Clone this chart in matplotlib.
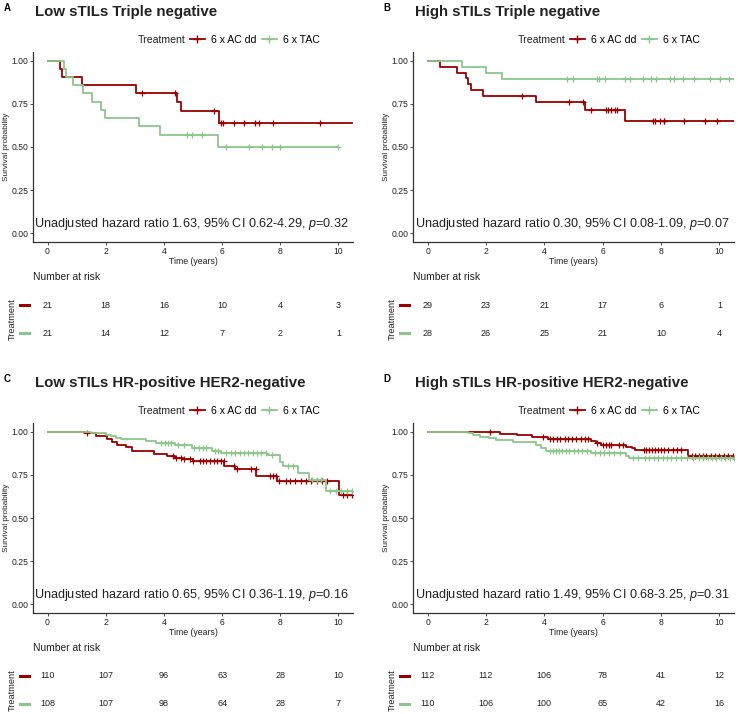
import numpy as np
import matplotlib
matplotlib.use("Agg")
import matplotlib.pyplot as plt
from matplotlib.lines import Line2D

plt.rcParams["font.family"] = ["Liberation Sans", "DejaVu Sans"]
plt.rcParams["mathtext.fontset"] = "custom"
plt.rcParams["mathtext.it"] = "Liberation Sans:italic"
plt.rcParams["mathtext.rm"] = "Liberation Sans"

# ---------------------------------------------------------------------------
# Data
# ---------------------------------------------------------------------------
risk_times = [0, 2, 4, 6, 8, 10]
groups = ["6 x AC dd", "6 x TAC"]

# Panel A: Low sTILs Triple negative
A_red_t = [0.44, 0.48, 1.18, 3.04, 4.44, 4.58, 5.90]
A_red_s = [0.952, 0.905, 0.857, 0.810, 0.762, 0.711, 0.640]
A_red_c = [3.24, 4.39, 5.73, 5.96, 6.02, 6.41, 6.74, 7.14, 7.27, 7.76, 9.36]
A_red_end = 10.48
A_green_t = [0.57, 0.63, 0.88, 1.23, 1.52, 1.83, 1.98, 3.13, 3.86, 5.86]
A_green_s = [0.952, 0.905, 0.857, 0.810, 0.762, 0.714, 0.667, 0.619, 0.571, 0.500]
A_green_c = [4.79, 4.98, 5.30, 6.13, 6.91, 7.37, 7.73, 7.98, 10.0]
A_green_end = 10.0
A_risk_red = [21, 18, 16, 10, 4, 3]
A_risk_green = [21, 14, 12, 7, 2, 1]

# Panel B: High sTILs Triple negative
B_red_t = [0.43, 1.0, 1.30, 1.38, 1.49, 1.89, 3.70, 5.38, 6.76]
B_red_s = [0.966, 0.931, 0.897, 0.862, 0.828, 0.793, 0.758, 0.715, 0.650]
B_red_c = [3.25, 4.85, 5.34, 5.59, 6.12, 6.17, 6.28, 6.41, 6.49,
           7.72, 7.80, 7.95, 8.09, 8.11, 8.78, 9.50, 9.92]
B_red_end = 10.5
B_green_t = [1.17, 1.99, 2.55]
B_green_s = [0.964, 0.929, 0.893]
B_green_c = [4.77, 4.98, 5.80, 5.89, 6.09, 6.77, 6.94, 7.38, 7.65, 7.84,
             8.30, 8.43, 8.75, 9.14, 9.67, 10.01, 10.32]
B_green_end = 10.5
B_risk_red = [29, 23, 21, 17, 6, 1]
B_risk_green = [28, 26, 25, 21, 10, 4]

# Panel C: Low sTILs HR-positive HER2-negative
C_red_t = [1.26, 1.66, 2.03, 2.23, 2.40, 2.69, 2.90, 3.67, 4.10, 4.39, 4.67,
           5.00, 6.06, 6.43, 7.16, 7.90, 10.02]
C_red_s = [0.991, 0.973, 0.955, 0.940, 0.925, 0.910, 0.885, 0.869, 0.860,
           0.850, 0.840, 0.831, 0.803, 0.786, 0.746, 0.717, 0.635]
C_red_c = [1.37, 4.30, 4.40, 4.60, 4.70, 4.90, 5.00, 5.25, 5.35, 5.45, 5.60,
           5.72, 5.82, 5.95, 6.05, 6.40, 6.50, 7.00, 7.15, 7.65, 7.75, 7.85,
           7.95, 8.20, 8.35, 8.50, 8.70, 8.90, 9.05, 9.25, 9.45, 9.60, 10.14,
           10.31, 10.48]
C_red_end = 10.48
C_green_t = [1.49, 2.00, 2.18, 2.35, 2.52, 3.38, 3.73, 4.39, 4.98, 5.67, 5.95,
             7.55, 8.00, 8.10, 8.60, 9.00, 9.57]
C_green_s = [0.991, 0.982, 0.973, 0.964, 0.955, 0.946, 0.935, 0.923, 0.904,
             0.890, 0.877, 0.866, 0.827, 0.800, 0.760, 0.718, 0.655]
C_green_c = [3.90, 4.05, 4.15, 4.25, 4.50, 4.70, 5.05, 5.20, 5.35, 5.45, 5.75,
             5.85, 6.15, 6.30, 6.45, 6.60, 6.75, 6.90, 7.05, 7.20, 7.35, 7.50,
             7.70, 8.25, 8.45, 9.10, 9.25, 9.40, 9.70, 9.90, 10.10, 10.30, 10.48]
C_green_end = 10.5
C_risk_red = [110, 107, 96, 63, 28, 10]
C_risk_green = [108, 107, 98, 64, 28, 7]

# Panel D: High sTILs HR-positive HER2-negative
D_red_t = [2.48, 3.06, 3.57, 4.14, 5.60, 5.77, 5.95, 6.80, 7.00, 7.10, 8.93]
D_red_s = [0.988, 0.978, 0.967, 0.956, 0.945, 0.934, 0.923, 0.913, 0.903,
           0.893, 0.858]
D_red_c = [2.14, 3.95, 4.20, 4.30, 4.45, 4.55, 4.70, 4.80, 4.95, 5.10, 5.25,
           5.40, 5.50, 5.80, 6.00, 6.10, 6.20, 6.30, 6.55, 6.70, 7.40, 7.50,
           7.60, 7.70, 7.80, 7.90, 8.00, 8.10, 8.25, 8.40, 8.55, 8.70, 9.05,
           9.15, 9.30, 9.45, 9.55, 9.70, 9.85, 10.00, 10.15, 10.30, 10.45]
D_red_end = 10.5
D_green_t = [1.40, 1.57, 1.80, 2.09, 2.34, 2.92, 3.72, 3.89, 4.06, 5.60, 6.80,
             6.91]
D_green_s = [0.991, 0.981, 0.971, 0.962, 0.950, 0.938, 0.925, 0.906, 0.890,
             0.877, 0.858, 0.845]
D_green_c = [4.20, 4.30, 4.40, 4.50, 4.60, 4.75, 4.85, 5.00, 5.15, 5.30, 5.45,
             5.75, 5.90, 6.05, 6.20, 6.40, 6.60, 7.05, 7.20, 7.45, 7.60, 7.75,
             7.90, 8.05, 8.20, 8.35, 8.50, 8.70, 8.90, 9.10, 9.30, 9.45, 9.60,
             9.75, 9.90, 10.05, 10.20, 10.35, 10.50]
D_green_end = 10.5
D_risk_red = [112, 112, 106, 78, 41, 12]
D_risk_green = [110, 106, 100, 65, 42, 16]

titles = ["Low sTILs Triple negative", "High sTILs Triple negative",
          "Low sTILs HR-positive HER2-negative", "High sTILs HR-positive HER2-negative"]
letters = ["A", "B", "C", "D"]
hr_texts = [
    "Unadjusted hazard ratio 1.63, 95% CI 0.62-4.29, $p$=0.32",
    "Unadjusted hazard ratio 0.30, 95% CI 0.08-1.09, $p$=0.07",
    "Unadjusted hazard ratio 0.65, 95% CI 0.36-1.19, $p$=0.16",
    "Unadjusted hazard ratio 1.49, 95% CI 0.68-3.25, $p$=0.31",
]

RED = "#990000"
GREEN = "#8cc68c"
AXC = "#333333"
TXT = "#222222"

W, H = 738, 714
fig = plt.figure(figsize=(W / 100, H / 100), dpi=100)


def fx(x):
    return x / W


def fy(y):
    return 1 - y / H


def km_curve(ax, t, s, c, end, color):
    tt = [0] + list(t) + [end]
    ss = [1.0] + list(s) + [s[-1]]
    ax.step(tt, ss, where="post", color=color, lw=1.3)
    # censor marks at the survival level at that time
    cy = [ss[np.searchsorted(tt, ci, side="right") - 1] for ci in c]
    ax.plot(c, cy, ls="none", marker="+", ms=5, mew=0.9, color=color)


def draw_panel(ox, oy, idx, red, green, risk_red, risk_green, width):
    # panel letter + title
    fig.text(fx(ox + 7), fy(oy + 8), letters[idx], fontsize=7, fontweight="bold",
             ha="center", va="center")
    fig.text(fx(ox + 35), fy(oy + 12), titles[idx], fontsize=10.8,
             fontweight="bold", ha="left", va="center", color=TXT)

    # legend
    lx = ox + 138
    fig.text(fx(lx), fy(oy + 40), "Treatment", fontsize=7.6, ha="left",
             va="center", color=TXT)
    handles = [Line2D([], [], color=RED, lw=1.3, marker="+", ms=6, mew=1),
               Line2D([], [], color=GREEN, lw=1.3, marker="+", ms=6, mew=1)]
    fig.legend(handles, groups, loc="center left",
               bbox_to_anchor=(fx(lx + 52), fy(oy + 40)), ncol=2, frameon=False,
               fontsize=7.6, handlelength=1.4, handletextpad=0.6, columnspacing=0.5,
               borderaxespad=0, borderpad=0)

    # main axes
    ax = fig.add_axes([fx(ox + 33), fy(oy + 242), width / W, 190 / H])
    km_curve(ax, *red, RED)
    km_curve(ax, *green, GREEN)
    ax.set_xlim(-0.5, 10.5)
    ax.set_ylim(-0.05, 1.05)
    ax.set_xticks(risk_times)
    ax.set_yticks([0, 0.25, 0.5, 0.75, 1.0])
    ax.set_yticklabels(["0.00", "0.25", "0.50", "0.75", "1.00"])
    for sp in ["top", "right"]:
        ax.spines[sp].set_visible(False)
    for sp in ["left", "bottom"]:
        ax.spines[sp].set_color(AXC)
        ax.spines[sp].set_linewidth(0.9)
    ax.tick_params(length=2, width=0.6, color=AXC, labelsize=6.2, pad=1.5,
                   labelcolor=TXT)
    ax.set_xlabel("Time (years)", fontsize=6.3, labelpad=1, color=TXT)
    ax.set_ylabel("Survival probability", fontsize=5.9, labelpad=1, color=TXT)
    ax.text(4.95, 0.055, hr_texts[idx], fontsize=9.1, ha="center", va="center",
            color=TXT)

    # risk table
    fig.text(fx(ox + 33), fy(oy + 277), "Number at risk", fontsize=7.4,
             ha="left", va="center", color=TXT)
    tab = fig.add_axes([fx(ox + 33), fy(oy + 345), width / W, 56 / H])
    tab.set_xlim(-0.5, 10.5)
    tab.set_ylim(345, 289)
    tab.axis("off")
    for row_y, vals, col in [(305, risk_red, RED), (333, risk_green, GREEN)]:
        for t, v in zip(risk_times, vals):
            tab.text(t, row_y, str(v), fontsize=6.5, ha="center", va="center",
                     color=TXT)
        fig.add_artist(Line2D([fx(ox + 20), fx(ox + 29)], [fy(oy + row_y)] * 2,
                              color=col, lw=2.2))
    fig.text(fx(ox + 12), fy(oy + 319), "Treatment", fontsize=6.6, rotation=90,
             ha="center", va="center", color=TXT)


draw_panel(0, 0, 0, (A_red_t, A_red_s, A_red_c, A_red_end),
           (A_green_t, A_green_s, A_green_c, A_green_end),
           A_risk_red, A_risk_green, 320)
draw_panel(380, 0, 1, (B_red_t, B_red_s, B_red_c, B_red_end),
           (B_green_t, B_green_s, B_green_c, B_green_end),
           B_risk_red, B_risk_green, 321)
draw_panel(0, 371, 2, (C_red_t, C_red_s, C_red_c, C_red_end),
           (C_green_t, C_green_s, C_green_c, C_green_end),
           C_risk_red, C_risk_green, 320)
draw_panel(380, 371, 3, (D_red_t, D_red_s, D_red_c, D_red_end),
           (D_green_t, D_green_s, D_green_c, D_green_end),
           D_risk_red, D_risk_green, 321)

fig.savefig("out.png", dpi=100, facecolor="white")
